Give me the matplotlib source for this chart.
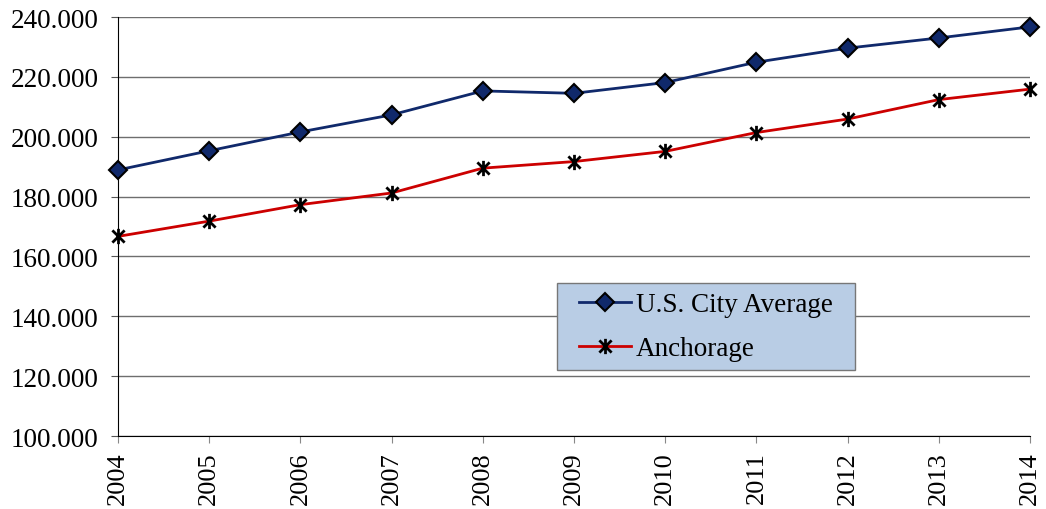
import matplotlib
matplotlib.use("Agg")
import matplotlib.pyplot as plt
from matplotlib.path import Path
from matplotlib.patches import Rectangle
from matplotlib.ticker import FuncFormatter

years = [2004, 2005, 2006, 2007, 2008, 2009, 2010, 2011, 2012, 2013, 2014]
us_city_avg = [188.9, 195.3, 201.6, 207.3, 215.3, 214.5, 218.1, 224.9, 229.6, 233.0, 236.7]
anchorage = [166.7, 171.8, 177.3, 181.2, 189.5, 191.7, 195.1, 201.4, 205.9, 212.4, 215.9]

plt.rcParams['font.family'] = ['Liberation Serif', 'DejaVu Serif']

# asterisk marker: an x with a vertical bar through it
star = Path([(-1, -1), (1, 1), (-1, 1), (1, -1), (0, -1.25), (0, 1.25)],
            [Path.MOVETO, Path.LINETO, Path.MOVETO, Path.LINETO, Path.MOVETO, Path.LINETO])

fig = plt.figure(figsize=(10.46, 5.10), dpi=100)
ax = fig.add_axes([0.1128, 0.1431, 0.8719, 0.8216])

ax.plot(years, us_city_avg, color='#10296B', lw=2, marker='D', markersize=9,
        markerfacecolor='#10296B', markeredgecolor='black', markeredgewidth=1.5,
        label='U.S. City Average', clip_on=False, zorder=3)
ax.plot(years, anchorage, color='#CC0000', lw=2, marker=star, markersize=11,
        markeredgecolor='black', markeredgewidth=2,
        label='Anchorage', clip_on=False, zorder=3)

ax.set_xlim(2004, 2014)
ax.set_ylim(100, 240)
ax.set_xticks(years)
ax.set_xticklabels([str(y) for y in years], rotation=90, fontsize=19)
ax.set_yticks(range(100, 241, 20))
ax.yaxis.set_major_formatter(FuncFormatter(lambda v, p: f"{v:.3f}"))
ax.tick_params(axis='y', labelsize=19.5, direction='out', length=5, color='#555555', pad=9)
ax.tick_params(axis='x', direction='out', length=5, color='#888888', pad=6)

ax.grid(axis='y', color='#6E6E6E', lw=1)
ax.set_axisbelow(True)
for side in ['top', 'right']:
    ax.spines[side].set_visible(False)
ax.spines['left'].set_color('black')
ax.spines['bottom'].set_color('black')

# legend box drawn as its own patch so the padding can differ per side
bx, by, bw, bh = 0.4814, 0.1575, 0.3268, 0.2076
ax.add_patch(Rectangle((bx, by), bw, bh, transform=ax.transAxes, facecolor='#B9CDE5',
                       edgecolor='#777777', lw=1, zorder=4))
leg = ax.legend(loc='center', bbox_to_anchor=(bx + bw / 2, by + bh / 2), fontsize=19.5,
                frameon=False, handlelength=1.9, borderpad=0.2, labelspacing=0.7,
                handletextpad=0.2)
leg.set_zorder(5)

fig.savefig('out.png', dpi=100)
